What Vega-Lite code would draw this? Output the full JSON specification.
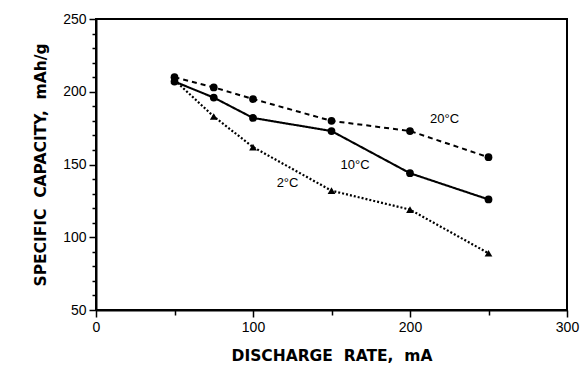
{
  "$schema": "https://vega.github.io/schema/vega-lite/v6.json",
  "width": 471,
  "height": 291,
  "autosize": {"type": "none"},
  "padding": {"left": 96, "top": 19, "right": 15, "bottom": 59},
  "background": "white",
  "config": {
    "view": {"stroke": "black", "strokeWidth": 2},
    "font": "Liberation Sans",
    "axis": {
      "domainColor": "black", "domainWidth": 2, "tickColor": "black", "tickWidth": 1.5,
      "labelColor": "black", "titleColor": "black", "grid": false,
      "labelFont": "Liberation Sans", "titleFont": "DejaVu Sans"
    }
  },
  "datasets": {
    "pts": [
      {"rate": 50, "cap": 210, "series": "20°C"},
      {"rate": 75, "cap": 203, "series": "20°C"},
      {"rate": 100, "cap": 195, "series": "20°C"},
      {"rate": 150, "cap": 180, "series": "20°C"},
      {"rate": 200, "cap": 173, "series": "20°C"},
      {"rate": 250, "cap": 155, "series": "20°C"},
      {"rate": 50, "cap": 207, "series": "10°C"},
      {"rate": 75, "cap": 196, "series": "10°C"},
      {"rate": 100, "cap": 182, "series": "10°C"},
      {"rate": 150, "cap": 173, "series": "10°C"},
      {"rate": 200, "cap": 144, "series": "10°C"},
      {"rate": 250, "cap": 126, "series": "10°C"},
      {"rate": 50, "cap": 208, "series": "2°C"},
      {"rate": 75, "cap": 183, "series": "2°C"},
      {"rate": 100, "cap": 162, "series": "2°C"},
      {"rate": 150, "cap": 132, "series": "2°C"},
      {"rate": 200, "cap": 119, "series": "2°C"},
      {"rate": 250, "cap": 89, "series": "2°C"}
    ],
    "labels": [
      {"rate": 222, "cap": 181, "text": "20°C"},
      {"rate": 165, "cap": 150, "text": "10°C"},
      {"rate": 122, "cap": 137, "text": "2°C"}
    ]
  },
  "encoding": {
    "x": {
      "field": "rate", "type": "quantitative",
      "scale": {"domain": [0, 300], "nice": false},
      "axis": {
        "title": "DISCHARGE\u00a0\u00a0RATE,\u00a0\u00a0mA", "titleFontSize": 15.5, "titleFontWeight": "bold", "titlePadding": 14,
        "values": [0, 50, 100, 150, 200, 250, 300],
        "labelExpr": "datum.value % 100 == 0 ? datum.label : ''",
        "labelOverlap": false,
        "labelFontSize": 14, "tickSize": {"condition": {"test": "datum.value % 100 === 0", "value": 7}, "value": 5},
        "labelPadding": 3, "labelFlush": false
      }
    },
    "y": {
      "field": "cap", "type": "quantitative",
      "scale": {"domain": [50, 250], "nice": false, "zero": false},
      "axis": {
        "title": "SPECIFIC\u00a0\u00a0CAPACITY,\u00a0\u00a0mAh/g", "titleFontSize": 15.5, "titleFontWeight": "bold", "titlePadding": 14,
        "values": [50,60,70,80,90,100,110,120,130,140,150,160,170,180,190,200,210,220,230,240,250],
        "labelExpr": "datum.value % 50 == 0 ? datum.label : ''",
        "labelOverlap": false,
        "labelFontSize": 14, "tickSize": {"condition": {"test": "datum.value % 50 === 0", "value": 7}, "value": 4},
        "labelPadding": 3, "labelFlush": false
      }
    }
  },
  "layer": [
    {
      "data": {"name": "pts"},
      "mark": {"type": "line", "color": "black"},
      "encoding": {
        "detail": {"field": "series"},
        "strokeDash": {
          "field": "series", "type": "nominal",
          "scale": {"domain": ["20°C", "10°C", "2°C"], "range": [[5, 4], [1, 0], [2, 2]]},
          "legend": null
        },
        "strokeWidth": {
          "field": "series", "type": "nominal",
          "scale": {"domain": ["20°C", "10°C", "2°C"], "range": [2, 2.2, 1.5]},
          "legend": null
        }
      }
    },
    {
      "data": {"name": "pts"},
      "mark": {"type": "point", "filled": true, "color": "black", "opacity": 1},
      "encoding": {
        "shape": {
          "field": "series", "type": "nominal",
          "scale": {"domain": ["20°C", "10°C", "2°C"], "range": ["circle", "circle", "triangle-up"]},
          "legend": null
        },
        "size": {
          "field": "series", "type": "nominal",
          "scale": {"domain": ["20°C", "10°C", "2°C"], "range": [60, 60, 200]},
          "legend": null
        }
      }
    },
    {
      "data": {"name": "labels"},
      "mark": {"type": "text", "fontSize": 13, "font": "Liberation Sans", "color": "black"},
      "encoding": {
        "text": {"field": "text"}
      }
    }
  ]
}
